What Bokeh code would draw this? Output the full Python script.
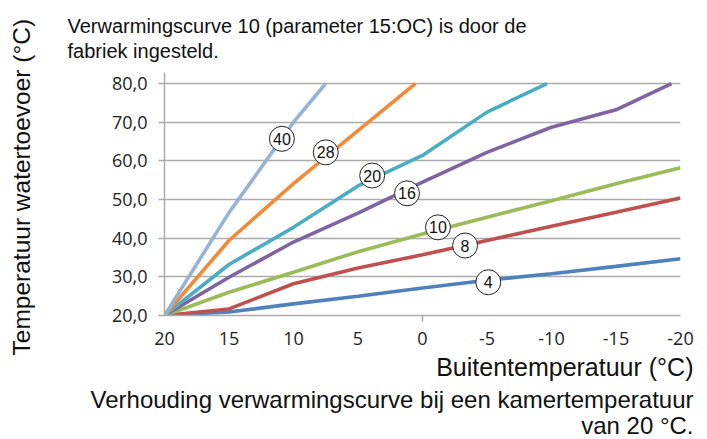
from bokeh.plotting import figure
from bokeh.models import Range1d, FixedTicker, LinearAxis, Title
from bokeh.core.properties import value
from bokeh.embed import file_html
from bokeh.resources import INLINE

# Outdoor temperature (°C); the x axis runs from 20 down to -20
outdoor = [20, 15, 10, 5, 0, -5, -10, -15, -20]

# Supply water temperature (°C) per heating curve; the steep curves end where they reach 80 °C
curve_4 = [20.0, 20.9, 23.0, 25.0, 27.1, 29.1, 30.8, 32.7, 34.7]
curve_8 = [20.0, 21.7, 28.2, 32.3, 35.7, 39.4, 43.1, 46.7, 50.4]
curve_10 = [20.0, 26.0, 31.2, 36.5, 41.1, 45.4, 49.7, 54.1, 58.2]
curve_16_x = [20, 15, 10, 5, 0, -5, -10, -15, -19.3]
curve_16 = [20.0, 29.9, 39.0, 46.5, 54.5, 62.2, 68.7, 73.2, 80.0]
curve_20_x = [20, 15, 10, 5, 0, -5, -9.65]
curve_20 = [20.0, 33.2, 42.8, 53.5, 61.4, 72.6, 80.0]
curve_28_x = [20, 15, 10, 5, 0.55]
curve_28 = [20.0, 39.4, 54.1, 67.8, 80.0]
curve_40_x = [20, 15, 10, 7.5]
curve_40 = [20.0, 46.6, 70.0, 80.0]

curve_names = ["4", "8", "10", "16", "20", "28", "40"]
curve_xs = [outdoor, outdoor, outdoor, curve_16_x, curve_20_x, curve_28_x, curve_40_x]
curve_values = [curve_4, curve_8, curve_10, curve_16, curve_20, curve_28, curve_40]
curve_colors = ["#4F81BD", "#C0504D", "#9BBB59", "#8064A2", "#4BACC6", "#F48A35", "#95B3D7"]

# Where each curve's number tag sits (outdoor °C, supply °C)
tag_x = [-5.1, -3.3, -1.2, 1.2, 3.9, 7.5, 10.9]
tag_y = [28.6, 38.1, 42.8, 51.6, 56.2, 62.2, 65.7]

y_ticks = [20, 30, 40, 50, 60, 70, 80]
y_tick_labels = ["20,0", "30,0", "40,0", "50,0", "60,0", "70,0", "80,0"]
x_ticks = [20, 15, 10, 5, 0, -5, -10, -15, -20]
x_tick_labels = ["20", "15", "10", "5", "0", "-5", "-10", "-15", "-20"]

title_lines = ["Verwarmingscurve 10 (parameter 15:OC) is door de", "fabriek ingesteld."]
y_title = "Temperatuur watertoevoer (°C)"
x_title = "Buitentemperatuur (°C)"
note_lines = ["Verhouding verwarmingscurve bij een kamertemperatuur", "van 20 °C."]

TEXT_FONT = "Liberation Sans"
TICK_FONT = "Open Sans"
GRID = "#ABABAB"
INK = "#111111"

# the value axis line runs a little past the 80 °C gridline
p = figure(
    width=707, height=439,
    x_range=Range1d(20, -20), y_range=Range1d(20, 82.85),
    x_axis_location=None,
    min_border_left=164, min_border_right=27,
    min_border_top=72, min_border_bottom=124,
    output_backend="svg", toolbar_location=None,
)
p.outline_line_color = None
p.background_fill_color = "white"
p.border_fill_color = "white"


def gap_axis(size, at):
    """A blank axis whose only job is to reserve `size` pixels in a side panel."""
    return LinearAxis(ticker=FixedTicker(ticks=[at]), major_label_overrides={at: ""},
                      axis_line_color=None, major_tick_in=0, major_tick_out=size,
                      minor_tick_in=0, minor_tick_out=0, major_tick_line_color=None,
                      major_label_standoff=0, major_label_text_font_size="1px")


def heading(txt, size, align, offset, standoff, line_height=1.2):
    return Title(text=txt, align=align, offset=offset, standoff=standoff,
                 text_font=TEXT_FONT, text_font_size=size, text_line_height=line_height,
                 text_font_style="normal", text_color=INK)


# vertical axis
p.yaxis.ticker = FixedTicker(ticks=y_ticks)
p.yaxis.major_label_overrides = dict(zip(y_ticks, y_tick_labels))
p.yaxis.major_tick_in = 0
p.yaxis.major_tick_out = 6
p.yaxis.minor_tick_out = 0
p.yaxis.minor_tick_in = 0
p.yaxis.axis_line_color = GRID
p.yaxis.axis_line_width = 1.5
p.yaxis.major_tick_line_color = GRID
p.yaxis.major_tick_line_width = 1.5
p.yaxis.major_label_text_font = TICK_FONT
p.yaxis.major_label_text_font_size = "18px"
p.yaxis.major_label_text_color = "#222222"
p.yaxis.major_label_standoff = 11

# horizontal axis line with the single crossing tick at 0 °C
x_line = LinearAxis(ticker=FixedTicker(ticks=[0]), major_label_overrides={0: ""},
                    major_tick_in=0, major_tick_out=6, minor_tick_in=0, minor_tick_out=0,
                    axis_line_color=GRID, axis_line_width=1.5,
                    major_tick_line_color=GRID, major_tick_line_width=1.5,
                    major_label_standoff=0, major_label_text_font_size="1px")
p.add_layout(x_line, "below")

# horizontal axis labels
x_labels = LinearAxis(ticker=FixedTicker(ticks=x_ticks),
                      major_label_overrides=dict(zip(x_ticks, x_tick_labels)),
                      major_tick_in=0, major_tick_out=0, minor_tick_in=0, minor_tick_out=0,
                      axis_line_color=None,
                      major_label_text_font=TICK_FONT, major_label_text_font_size="18px",
                      major_label_text_color="#222222", major_label_standoff=10)
p.add_layout(x_labels, "below")

p.xgrid.grid_line_color = None
p.ygrid.ticker = FixedTicker(ticks=y_ticks)
p.ygrid.grid_line_color = GRID
p.ygrid.grid_line_width = 1.5

# heating curves
for xs, ys, color in zip(curve_xs, curve_values, curve_colors):
    p.line(xs, ys, line_color=color, line_width=3.6)

# numbered tags on the curves
p.scatter(tag_x, tag_y, size=25, marker="circle", fill_color="white",
          line_color="#222222", line_width=1)
p.text(tag_x, tag_y, text=curve_names, text_align="center", text_baseline="middle",
       text_font=value(TEXT_FONT), text_font_size="16px", text_color=INK)

# heading above the chart
p.add_layout(gap_axis(10, 0), "above")
p.add_layout(heading("\n".join(title_lines), "20px", "left", -97, 0, 1.155), "above")

# vertical axis title
p.add_layout(gap_axis(74, 50), "left")
p.add_layout(heading(y_title, "24.5px", "left", -40, 0), "left")

# axis title and note below the chart
p.add_layout(heading(x_title, "25px", "right", -13, 6), "below")
p.add_layout(heading(note_lines[0], "24px", "right", -13, 0), "below")
p.add_layout(heading(note_lines[1], "24px", "right", -13, -6), "below")

open("out.html", "w").write(file_html(p, INLINE))
